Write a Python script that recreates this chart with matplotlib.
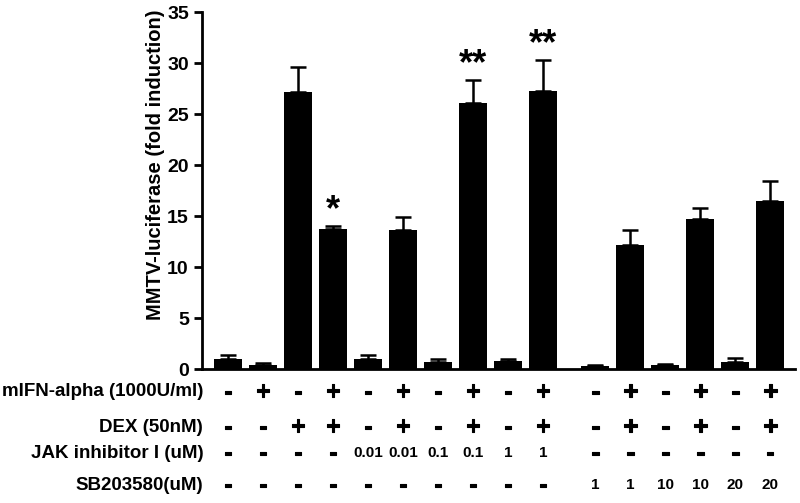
import numpy as np
import matplotlib
matplotlib.use("Agg")
import matplotlib.pyplot as plt
import matplotlib.patheffects as pe

plt.rcParams['font.family'] = ['Liberation Sans', 'DejaVu Sans']
plt.rcParams['font.weight'] = 'bold'

# data
means = [1.0, 0.4, 27.2, 13.7, 1.0, 13.6, 0.7, 26.1, 0.8, 27.3,
         0.3, 12.2, 0.4, 14.7, 0.7, 16.5]
errs = [0.4, 0.2, 2.4, 0.3, 0.4, 1.3, 0.3, 2.2, 0.2, 3.0,
        0.1, 1.4, 0.1, 1.1, 0.4, 1.9]
stars = ['', '', '', '*', '', '', '', '**', '', '**',
         '', '', '', '', '', '']

row_labels = ['mIFN-alpha (1000U/ml)', 'DEX (50nM)', 'JAK inhibitor I (uM)', 'SB203580(uM)']
ifn = ['-', '+'] * 8
dex = ['-', '-', '+', '+', '-', '+', '-', '+', '-', '+', '-', '+', '-', '+', '-', '+']
jak = ['-', '-', '-', '-', '0.01', '0.01', '0.1', '0.1', '1', '1',
       '-', '-', '-', '-', '-', '-']
sb = ['-'] * 10 + ['1', '1', '10', '10', '20', '20']
rows = [ifn, dex, jak, sb]

# bar positions: two groups with a gap
x = np.array(list(range(10)) + [10.5 + i for i in range(6)])

fig = plt.figure(figsize=(8, 5.03), dpi=100)
ax = fig.add_axes([0.2525, 0.2664, 0.7415, 0.7096])

ax.bar(x, means, width=0.8, color='black')
ax.errorbar(x, means, yerr=[np.zeros(len(errs)), errs], fmt='none',
            ecolor='black', elinewidth=1.8, capsize=6, capthick=1.8)

for xi, m, e, s in zip(x, means, errs, stars):
    if s:
        ax.text(xi, m + e - 0.2, s, ha='center', va='bottom',
                fontsize=26, fontweight='bold')

ax.set_xlim(-0.743, 16.21)
ax.set_ylim(0, 35)
ax.set_yticks(range(0, 36, 5))
ax.set_xticks([])
ax.spines['top'].set_visible(False)
ax.spines['right'].set_visible(False)
ax.spines['left'].set_linewidth(2)
ax.spines['bottom'].set_linewidth(2)
ax.tick_params(axis='y', width=2, length=6, labelsize=14)
for lbl in ax.get_yticklabels():
    lbl.set_fontweight('bold')
ax.set_ylabel('MMTV-luciferase (fold induction)', fontsize=14.5,
              fontweight='bold')
ax.yaxis.set_label_coords(-0.062, 0.571)

# condition table under the axis
thick = [pe.withStroke(linewidth=0.8, foreground='black')]
row_y = [392, 427, 453, 485]
for label, yp, vals in zip(row_labels, row_y, rows):
    yf = 1 - yp / 503
    fig.text(0.254, yf, label, ha='right', va='center', fontsize=13.5,
             fontweight='bold')
    for xi, v in zip(x, vals):
        xf = ax.transData.transform((xi, 0))[0] / fig.bbox.width
        if v in ('+', '-'):
            fig.text(xf, yf, v, ha='center', va='center', fontsize=18,
                     fontweight='bold', path_effects=thick)
        else:
            fig.text(xf, yf, v, ha='center', va='center', fontsize=11,
                     fontweight='bold')

fig.savefig('out.png', dpi=100)
